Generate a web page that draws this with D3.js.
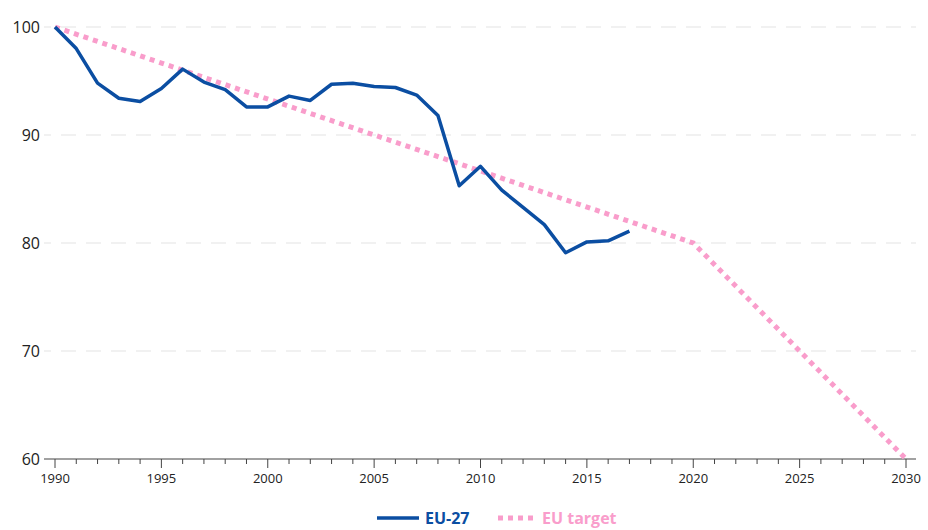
<!DOCTYPE html>
<html>
<head>
<meta charset="utf-8">
<script src="https://cdn.jsdelivr.net/npm/d3@7"></script>
<style>
  body { margin: 0; background: #fff; }
  text { font-family: "Open Sans", "Noto Sans", sans-serif; }
</style>
</head>
<body>
<div id="chart"></div>
<script>
// EU-27 index (1990 = 100)
const years = d3.range(1990, 2018);
const eu27 = [100, 98.0, 94.8, 93.4, 93.1, 94.3, 96.1, 94.9, 94.2, 92.6,
              92.6, 93.6, 93.2, 94.7, 94.8, 94.5, 94.4, 93.7, 91.8, 85.3,
              87.1, 84.9, 83.3, 81.7, 79.1, 80.1, 80.2, 81.1];
const targetYears = [1990, 2020, 2030];
const targetValues = [100, 80, 60];
const yTicks = [60, 70, 80, 90, 100];
const xLabels = [1990, 1995, 2000, 2005, 2010, 2015, 2020, 2025, 2030];
const seriesNames = ["EU-27", "EU target"];

const blue = "#0b4ea2", pink = "#f99dcb";

const width = 928, height = 530;
const margin = { top: 27, right: 22, bottom: 71, left: 55 };

const svg = d3.select("#chart").append("svg")
    .attr("width", width)
    .attr("height", height);

const x = d3.scaleLinear()
    .domain([1990, 2030])
    .range([margin.left, 906]);

const y = d3.scaleLinear()
    .domain([60, 100])
    .range([height - margin.bottom, margin.top]);

// gridlines
svg.append("g")
    .selectAll("line")
    .data(yTicks.filter(d => d > 60))
    .enter()
    .append("line")
    .attr("x1", 44)
    .attr("x2", 916)
    .attr("y1", d => y(d))
    .attr("y2", d => y(d))
    .attr("stroke", "#e3e3e3")
    .attr("stroke-width", 1)
    .attr("stroke-dasharray", "15,10")
    .attr("stroke-dashoffset", -17);

// y labels
svg.append("g")
    .selectAll("text")
    .data(yTicks)
    .enter()
    .append("text")
    .attr("x", 40)
    .attr("y", d => y(d))
    .attr("dy", "0.35em")
    .attr("text-anchor", "end")
    .style("font-size", "16px")
    .attr("fill", "#222")
    .text(d => d);

// x axis
const xAxis = svg.append("g")
    .attr("transform", `translate(0, ${y(60)})`);
xAxis.append("line")
    .attr("x1", 44)
    .attr("x2", 916)
    .attr("stroke", "#444")
    .attr("stroke-width", 1.2);
xAxis.selectAll(".tick")
    .data(d3.range(1990, 2031))
    .enter()
    .append("line")
    .attr("x1", d => x(d))
    .attr("x2", d => x(d))
    .attr("y1", 0)
    .attr("y2", d => d % 5 === 0 ? 9 : 5)
    .attr("stroke", "#444")
    .attr("stroke-width", 1);
xAxis.selectAll("text")
    .data(xLabels)
    .enter()
    .append("text")
    .attr("x", d => x(d))
    .attr("y", 24)
    .attr("text-anchor", "middle")
    .style("font-size", "13px")
    .attr("fill", "#222")
    .text(d => d);

// target line
const line = d3.line()
    .x(d => x(d[0]))
    .y(d => y(d[1]));

svg.append("path")
    .datum(targetYears.map((yr, i) => [yr, targetValues[i]]))
    .attr("d", line)
    .attr("fill", "none")
    .attr("stroke", pink)
    .attr("stroke-width", 5)
    .attr("stroke-dasharray", "5,5");

// EU-27 line
svg.append("path")
    .datum(years.map((yr, i) => [yr, eu27[i]]))
    .attr("d", line)
    .attr("fill", "none")
    .attr("stroke", blue)
    .attr("stroke-width", 3.5)
    .attr("stroke-linejoin", "round");

// legend
const legend = svg.append("g").attr("transform", "translate(0, 518)");
legend.append("line")
    .attr("x1", 377).attr("x2", 419)
    .attr("stroke", blue).attr("stroke-width", 3.5);
legend.append("text")
    .attr("x", 425).attr("dy", "0.35em")
    .style("font-size", "16px").style("font-weight", "bold")
    .attr("fill", blue)
    .text(seriesNames[0]);
legend.append("line")
    .attr("x1", 498).attr("x2", 533)
    .attr("stroke", pink).attr("stroke-width", 5)
    .attr("stroke-dasharray", "5,5");
legend.append("text")
    .attr("x", 542).attr("dy", "0.35em")
    .style("font-size", "16px").style("font-weight", "bold")
    .attr("fill", pink)
    .text(seriesNames[1]);
</script>
</body>
</html>
